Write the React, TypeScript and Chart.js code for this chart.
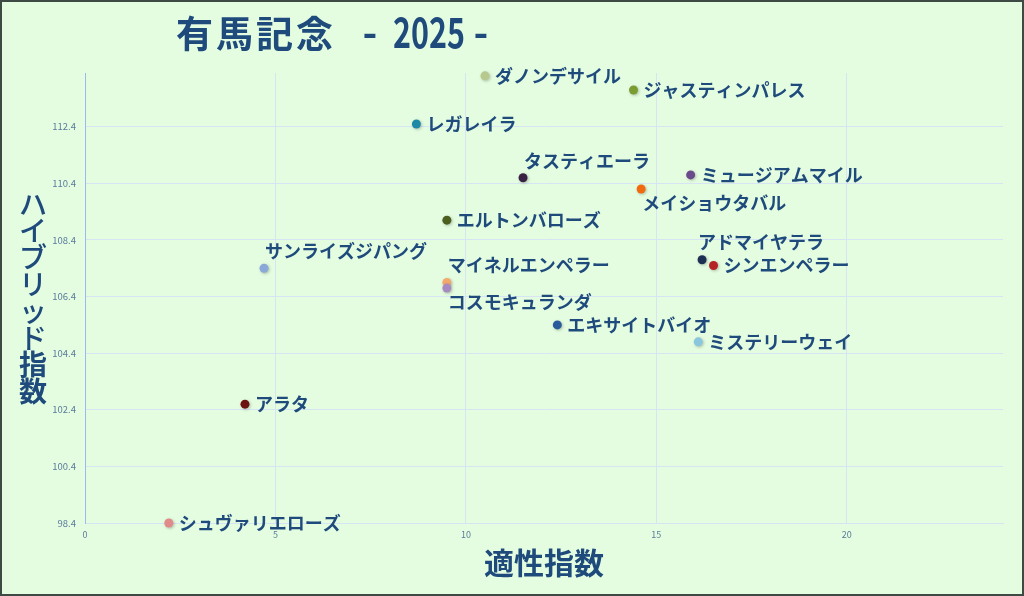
import React, { useEffect, useRef } from "react";
import Chart from "chart.js/auto";

// 適性指数 (x) / ハイブリッド指数 (y)
const horses = [
  "ダノンデサイル",
  "ジャスティンパレス",
  "レガレイラ",
  "タスティエーラ",
  "ミュージアムマイル",
  "メイショウタバル",
  "エルトンバローズ",
  "アドマイヤテラ",
  "シンエンペラー",
  "マイネルエンペラー",
  "コスモキュランダ",
  "エキサイトバイオ",
  "ミステリーウェイ",
  "サンライズジパング",
  "アラタ",
  "シュヴァリエローズ",
];
const aptitude = [10.5, 14.4, 8.7, 11.5, 15.9, 14.6, 9.5, 16.2, 16.5, 9.5, 9.5, 12.4, 16.1, 4.7, 4.2, 2.2];
const hybrid = [114.2, 113.7, 112.5, 110.6, 110.7, 110.2, 109.1, 107.7, 107.5, 106.9, 106.7, 105.4, 104.8, 107.4, 102.6, 98.4];

const xTicks = [0, 5, 10, 15, 20];
const yTicks = [98.4, 100.4, 102.4, 104.4, 106.4, 108.4, 110.4, 112.4];

const dotColors = [
  "#b7c98c", "#7b9c31", "#1f8aa6", "#3a2244", "#6b4a8c", "#f06a10", "#4b5f1e", "#1d2f52",
  "#b42424", "#f4a96c", "#a88ac2", "#2a5b9b", "#8ac6de", "#8aa8d8", "#6c1212", "#e08a8a",
];
// where each name sits relative to its dot
const labelSide = [
  "right", "right", "right", "above", "right", "below", "right", "aboveLeft",
  "right", "above", "below", "right", "right", "above", "right", "right",
];

const INK = "#1f4a7c";
const JP = "'Noto Sans CJK JP', 'Noto Sans', sans-serif";

const decor = {
  id: "decor",
  beforeDatasetsDraw(chart: Chart) {
    chart.ctx.save();
    chart.ctx.shadowColor = "rgba(0,0,0,0.25)";
    chart.ctx.shadowBlur = 3;
    chart.ctx.shadowOffsetX = 1;
    chart.ctx.shadowOffsetY = 1;
  },
  afterDatasetsDraw(chart: Chart) {
    const ctx = chart.ctx;
    ctx.restore();
    const meta = chart.getDatasetMeta(0);
    ctx.save();
    ctx.fillStyle = INK;
    ctx.font = `bold 18px ${JP}`;
    ctx.textBaseline = "middle";
    ctx.textAlign = "left";
    meta.data.forEach((pt: any, i: number) => {
      const side = labelSide[i];
      let x = pt.x + 10;
      let y = pt.y;
      if (side === "above") { x = pt.x + 1; y = pt.y - 17; }
      if (side === "aboveLeft") { x = pt.x - 4; y = pt.y - 18; }
      if (side === "below") { x = pt.x + 1; y = pt.y + 14; }
      ctx.fillText(horses[i], x, y);
    });

    // title
    ctx.textBaseline = "alphabetic";
    ctx.font = `bold 37px ${JP}`;
    (ctx as any).letterSpacing = "3px";
    ctx.fillText("有馬記念", 176, 48);
    (ctx as any).letterSpacing = "0px";
    ctx.font = `bold 40px ${JP}`;
    ctx.textAlign = "center";
    ctx.fillText("-", 370, 47);
    ctx.fillText("-", 481, 47);
    const w = ctx.measureText("2025").width;
    ctx.save();
    ctx.translate(429, 48);
    ctx.scale(72 / w, 1.05);
    ctx.fillText("2025", 0, 0);
    ctx.restore();

    // axis titles
    ctx.font = `bold 30px ${JP}`;
    ctx.textBaseline = "middle";
    ctx.fillText("適性指数", 544, 563);
    ctx.font = `500 28px ${JP}`;
    Array.from("ハイブリッド").forEach((c, i) => {
      ctx.fillText(c, 33, 204 + i * 26.8);
    });
    ctx.font = `bold 28px ${JP}`;
    Array.from("指数").forEach((c, i) => {
      ctx.fillText(c, 33, 204 + (i + 6) * 26.8);
    });
    ctx.restore();
  },
};

function App() {
  const canvasRef = useRef<HTMLCanvasElement | null>(null);

  useEffect(() => {
    document.body.style.margin = "0";
    if (!canvasRef.current) return;
    const chart = new Chart(canvasRef.current, {
      type: "scatter",
      data: {
        datasets: [
          {
            data: aptitude.map((x, i) => ({ x, y: hybrid[i] })),
            pointBackgroundColor: dotColors,
            pointBorderWidth: 0,
            pointRadius: 4.5,
            clip: false,
          },
        ],
      },
      options: {
        animation: false,
        responsive: false,
        layout: { padding: { left: 0, top: 73, right: 21, bottom: 0 } },
        plugins: { legend: { display: false }, tooltip: { enabled: false } },
        scales: {
          x: {
            type: "linear",
            min: 0,
            max: 24.1,
            afterFit: (s: any) => { s.height = 73; },
            afterBuildTicks: (s: any) => { s.ticks = xTicks.map((v) => ({ value: v })); },
            ticks: { color: "#5a7a9c", font: { size: 9, family: JP }, padding: 6 },
            grid: { color: "#d6e4f4", drawTicks: false },
            border: { color: "#d6e4f4" },
          },
          y: {
            type: "linear",
            min: 98.4,
            max: 114.3,
            afterFit: (s: any) => { s.width = 85; },
            afterBuildTicks: (s: any) => { s.ticks = yTicks.map((v) => ({ value: v })); },
            ticks: {
              color: "#5a7a9c",
              font: { size: 9.5, family: JP },
              padding: 9,
              callback: (v: any) => Number(v).toFixed(1),
            },
            grid: { color: "#d6e4f4", drawTicks: false },
            border: { color: "#9db8ee" },
          },
        },
      },
      plugins: [decor],
    });
    return () => chart.destroy();
  }, []);

  return (
    <div
      style={{
        position: "relative",
        width: 1024,
        height: 596,
        background: "#e4fde0",
        boxShadow: "inset 0 0 0 2px #3e4a44",
      }}
    >
      <canvas ref={canvasRef} width={1024} height={596} style={{ display: "block" }} />
    </div>
  );
}

export default App;
